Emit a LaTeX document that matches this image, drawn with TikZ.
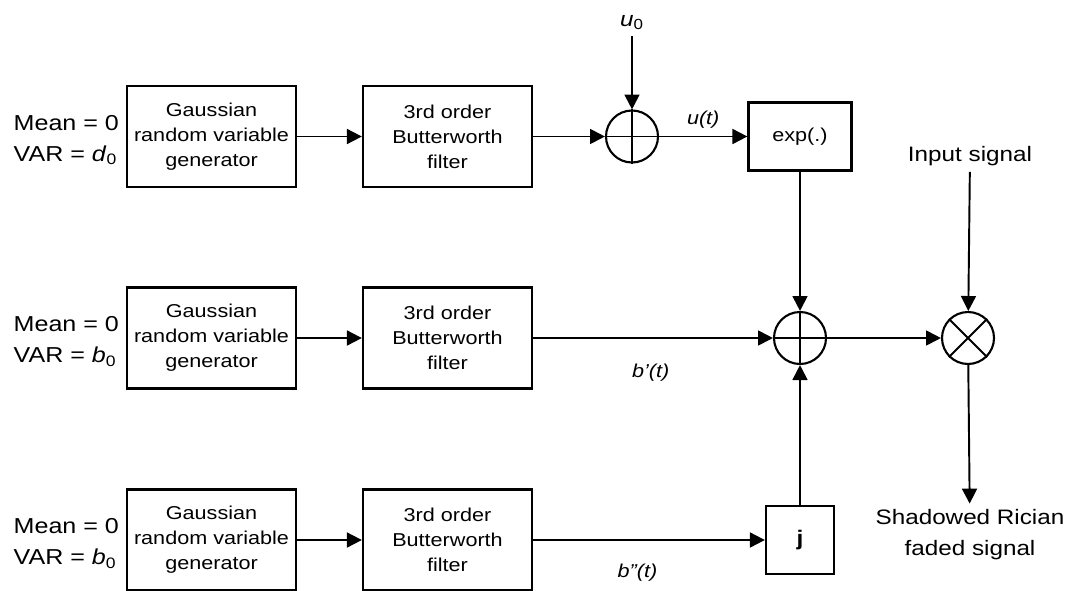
\documentclass[tikz,border=0pt]{standalone}
\usepackage{fontspec}
\setmainfont{Liberation Sans}[FakeStretch=1.16]
\usepackage{tikz}
\usetikzlibrary{arrows.meta,positioning,shapes}

\tikzset{
  block/.style={draw,line width=1.3pt,minimum width=3.38cm,minimum height=2.02cm,align=center,
    font=\fontsize{10.6}{14.2}\selectfont},
  smallblock/.style={draw,line width=1.3pt,minimum width=2.06cm,minimum height=1.36cm,
    font=\fontsize{10.6}{14.2}\selectfont},
  junction/.style={circle,draw,line width=1.2pt,minimum size=1.04cm,inner sep=0pt},
  lbl/.style={align=left,font=\fontsize{11.9}{17.6}\selectfont},
  param/.style={align=left,anchor=west,font=\fontsize{12.3}{17.6}\selectfont},
  sig/.style={font=\fontsize{10.6}{13}\selectfont\itshape},
  flow/.style={line width=1.1pt,-{Triangle[length=8.5pt,width=8.5pt]}}
}

\begin{document}
\begin{tikzpicture}
				\useasboundingbox (0,0) rectangle (21.48,-11.8);

				% Three noise branches
				\node[param] (p1) at (0.15,-2.8) {Mean = 0\\VAR = \textit{d}\textsubscript{0}};
				\node[block] (g1) at (4.23,-2.73) {Gaussian\\random variable\\generator};
				\node[block] (f1) at (8.95,-2.73) {3rd order\\Butterworth\\filter};

				\node[param] (p2) at (0.15,-6.83) {Mean = 0\\VAR = \textit{b}\textsubscript{0}};
				\node[block] (g2) at (4.23,-6.76) {Gaussian\\random variable\\generator};
				\node[block] (f2) at (8.95,-6.76) {3rd order\\Butterworth\\filter};

				\node[param] (p3) at (0.15,-10.87) {Mean = 0\\VAR = \textit{b}\textsubscript{0}};
				\node[block] (g3) at (4.23,-10.8) {Gaussian\\random variable\\generator};
				\node[block] (f3) at (8.95,-10.8) {3rd order\\Butterworth\\filter};

				% Adders, exp, j and mixer
				\node[junction] (s1) at (12.64,-2.73) {};
				\draw[line width=1.1pt] (s1.north) -- (s1.south) (s1.west) -- (s1.east);
				\node[smallblock] (e) at (16.0,-2.73) {exp(.)};
				\node[junction] (s2) at (16.0,-6.76) {};
				\draw[line width=1.1pt] (s2.north) -- (s2.south) (s2.west) -- (s2.east);
				\node[smallblock,minimum width=1.36cm,font=\fontsize{12}{14}\selectfont\bfseries] (j) at (16.0,-10.8) {j};
				\node[junction] (m) at (19.36,-6.76) {};
				\draw[line width=1.1pt] (m.north west) -- (m.south east) (m.north east) -- (m.south west);

				\node[sig,font=\fontsize{11.9}{13}\selectfont\itshape] (u0) at (12.64,-0.45) {u\textsubscript{\upshape 0}};
				\node[lbl] (in) at (19.4,-3.12) {Input signal};
				\node[lbl,align=center] (out) at (19.4,-10.7) {Shadowed Rician\\faded signal};

				% Connections
				\draw[flow] (g1) -- (f1);
				\draw[flow] (f1) -- (s1);
				\draw[flow] (u0) -- (s1);
				\draw[flow] (s1) -- node[sig,above=1pt] {u(t)} (e);
				\draw[flow] (e) -- (s2);
				\draw[flow] (g2) -- (f2);
				\draw[flow] (f2) -- node[sig,below=11pt,pos=0.49] {b'(t)} (s2);
				\draw[flow] (g3) -- (f3);
				\draw[flow] (f3) -- node[sig,below=10pt,pos=0.45] {b''(t)} (j);
				\draw[flow] (j) -- (s2);
				\draw[flow] (s2) -- (m);
				\draw[flow] (in) -- (m);
				\draw[flow] (m) -- (out);
			\end{tikzpicture}
\end{document}
